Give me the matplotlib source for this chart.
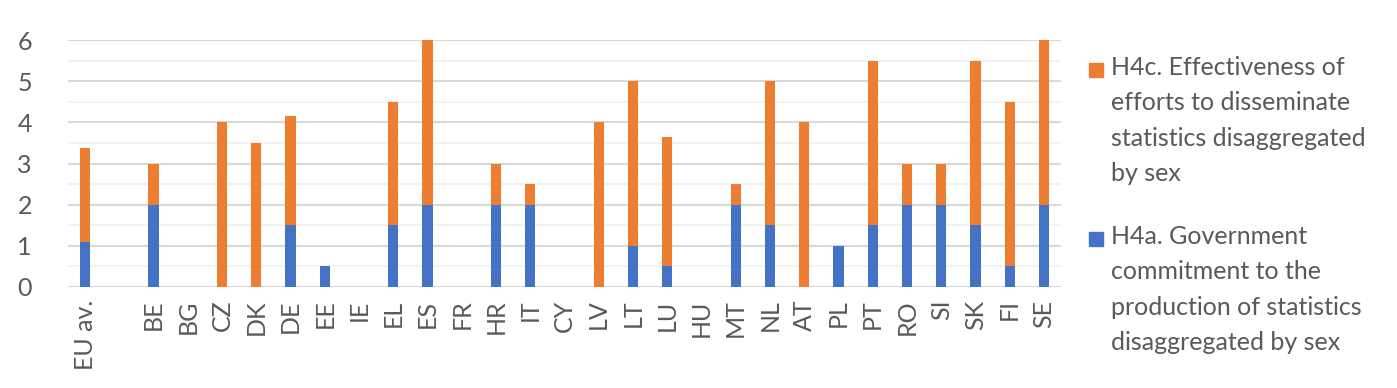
import numpy as np
import matplotlib.pyplot as plt
from matplotlib.ticker import MultipleLocator
from matplotlib.patches import Rectangle

plt.rcParams['font.family'] = ['Lato', 'DejaVu Sans']

countries = ["EU av.", "", "BE", "BG", "CZ", "DK", "DE", "EE", "IE", "EL", "ES", "FR",
             "HR", "IT", "CY", "LV", "LT", "LU", "HU", "MT", "NL", "AT", "PL", "PT",
             "RO", "SI", "SK", "FI", "SE"]
h4a = [1.1, 0, 2, 0, 0, 0, 1.5, 0.5, 0, 1.5, 2, 0,
       2, 2, 0, 0, 1, 0.5, 0, 2, 1.5, 0, 1, 1.5,
       2, 2, 1.5, 0.5, 2]
h4c = [2.27, 0, 1, 0, 4, 3.5, 2.65, 0, 0, 3, 4, 0,
       1, 0.5, 0, 4, 4, 3.15, 0, 0.5, 3.5, 4, 0, 4,
       1, 1, 4, 4, 4]

label_c = "H4c. Effectiveness of\nefforts to disseminate\nstatistics disaggregated\nby sex"
label_a = "H4a. Government\ncommitment to the\nproduction of statistics\ndisaggregated by sex"

BLUE = "#4472c4"
ORANGE = "#ed7d31"
GREY = "#595959"
W, H = 1397, 388

fig = plt.figure(figsize=(W / 100, H / 100), dpi=100)
ax = fig.add_axes([68 / W, 1 - 287 / H, (1061 - 68) / W, (287 - 40) / H])

x = np.arange(len(countries))
ax.bar(x, h4a, width=0.3, color=BLUE, zorder=3)
ax.bar(x, h4c, width=0.3, bottom=h4a, color=ORANGE, zorder=3)

ax.set_xlim(-0.5, len(countries) - 0.5)
ax.set_ylim(0, 6)
ax.yaxis.set_major_locator(MultipleLocator(1))
ax.yaxis.set_minor_locator(MultipleLocator(0.5))
ax.grid(axis="y", which="major", color="#d9d9d9", linewidth=1.5, zorder=0)
ax.grid(axis="y", which="minor", color="#f2f2f2", linewidth=1.5, zorder=0)
for s in ax.spines.values():
    s.set_visible(False)
ax.tick_params(axis="y", which="both", length=0, pad=26, labelsize=18, labelcolor=GREY)
ax.tick_params(axis="x", length=0, pad=9, labelsize=18, labelcolor=GREY)
ax.set_xticks(x)
ax.set_xticklabels(countries, rotation=90)

# legend drawn by hand so the marker sits on the first line of each label
for label, color, top in [(label_c, ORANGE, 56), (label_a, BLUE, 225)]:
    fig.patches.append(Rectangle((1089 / W, 1 - 77 / H - (top - 56) / H), 14 / W, 14 / H,
                                 transform=fig.transFigure, color=color))
    fig.text(1111 / W, 1 - top / H, label, va="top", ha="left", fontsize=18,
             color=GREY, linespacing=1.65)

fig.savefig("out.png", dpi=100)
